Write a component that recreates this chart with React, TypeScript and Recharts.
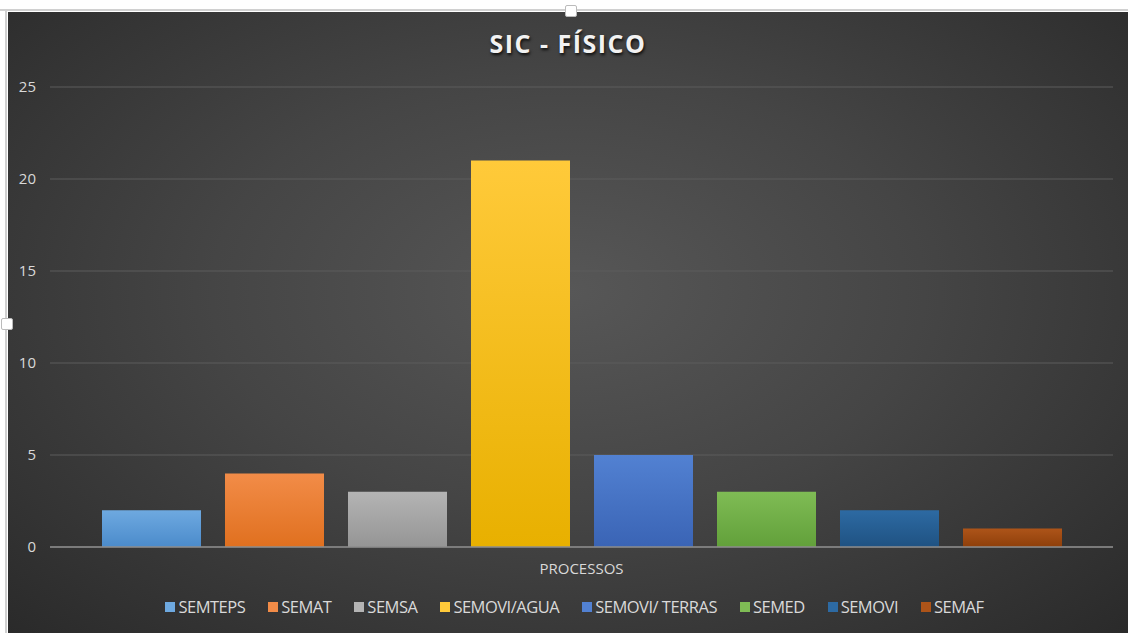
import React from "react";
import { BarChart, Bar, XAxis, YAxis, CartesianGrid, Legend } from "recharts";

const categories = ["PROCESSOS"];
const seriesNames = [
  "SEMTEPS",
  "SEMAT",
  "SEMSA",
  "SEMOVI/AGUA",
  "SEMOVI/ TERRAS",
  "SEMED",
  "SEMOVI",
  "SEMAF",
];
const seriesValues = [2, 4, 3, 21, 5, 3, 2, 1];
const yTicks = [0, 5, 10, 15, 20, 25];

// top / bottom gradient stops per series
const seriesColors = [
  ["#6ea9e0", "#4b8bcb"],
  ["#f28c48", "#e0701f"],
  ["#b4b4b4", "#959595"],
  ["#ffca3a", "#e8b000"],
  ["#5281d2", "#3a64b5"],
  ["#7fbc55", "#62a03a"],
  ["#2d6aa3", "#1f5282"],
  ["#ad5419", "#8e3f0a"],
];

const data = categories.map(name => {
  const row: Record<string, string | number> = { name };
  seriesNames.forEach((s, i) => (row[s] = seriesValues[i]));
  return row;
});

const FONT = "'Open Sans', 'Liberation Sans', sans-serif";

const CustomLegend = () => (
  <div
    style={{
      display: "flex",
      justifyContent: "center",
      gap: 23,
      paddingLeft: 28,
      fontFamily: FONT,
      fontSize: 16.5,
      color: "#d9d9d9",
      letterSpacing: -0.5,
    }}
  >
    {seriesNames.map((s, i) => (
      <div key={s} style={{ display: "flex", alignItems: "center" }}>
        <span
          style={{
            display: "inline-block",
            width: 10,
            height: 10,
            background: seriesColors[i][0],
            marginRight: 3,
          }}
        />
        {s}
      </div>
    ))}
  </div>
);

export default function App() {
  return (
    <div
      style={{
        position: "absolute",
        left: 0,
        top: 0,
        width: 1128,
        height: 633,
        background: "#fff",
        overflow: "hidden",
      }}
    >
      <div style={{ position: "absolute", left: 0, top: 9, width: 1128, height: 2, background: "#d0d0d0" }} />
      <div style={{ position: "absolute", left: 5, top: 9, width: 2, height: 624, background: "#d0d0d0" }} />
      <div
        style={{
          position: "absolute",
          left: 8,
          top: 12,
          width: 1120,
          height: 621,
          background: "radial-gradient(ellipse at 50% 45%, #575757 0%, #454545 45%, #2a2a2a 100%)",
        }}
      >
        <div
          style={{
            position: "absolute",
            top: 14,
            left: 0,
            width: 1120,
            textAlign: "center",
            fontFamily: FONT,
            fontWeight: 700,
            fontSize: 25,
            letterSpacing: 1.5,
            color: "#f2f2f2",
            textShadow: "1px 2px 3px rgba(0,0,0,0.8)",
          }}
        >
          SIC - FÍSICO
        </div>
        <BarChart
          width={1120}
          height={621}
          data={data}
          margin={{ top: 75, right: 15, left: 0, bottom: 15 }}
          barGap={24}
          barSize={99}
        >
          <defs>
            {seriesColors.map((c, i) => (
              <linearGradient key={i} id={`g${i}`} x1="0" y1="0" x2="0" y2="1">
                <stop offset="0%" stopColor={c[0]} />
                <stop offset="100%" stopColor={c[1]} />
              </linearGradient>
            ))}
          </defs>
          <CartesianGrid vertical={false} stroke="#5c5c5c" strokeWidth={1} />
          <XAxis
            dataKey="name"
            axisLine={{ stroke: "#8c8c8c", strokeWidth: 1.5 }}
            tickLine={false}
            tickMargin={10}
            height={48}
            tick={{ fill: "#d9d9d9", fontSize: 15, fontFamily: FONT }}
          />
          <YAxis
            domain={[0, 25]}
            ticks={yTicks}
            width={42}
            axisLine={false}
            tickLine={false}
            tickMargin={8}
            tick={{ fill: "#d9d9d9", fontSize: 15, fontFamily: FONT }}
          />
          <Legend verticalAlign="bottom" content={<CustomLegend />} />
          {seriesNames.map((s, i) => (
            <Bar key={s} dataKey={s} fill={`url(#g${i})`} isAnimationActive={false} />
          ))}
        </BarChart>
      </div>
      <div style={{ position: "absolute", left: 565, top: 5, width: 10, height: 10, background: "#fff", border: "1px solid #bbb", borderRadius: 2 }} />
      <div style={{ position: "absolute", left: 1, top: 318, width: 10, height: 10, background: "#fff", border: "1px solid #bbb", borderRadius: 2 }} />
    </div>
  );
}
